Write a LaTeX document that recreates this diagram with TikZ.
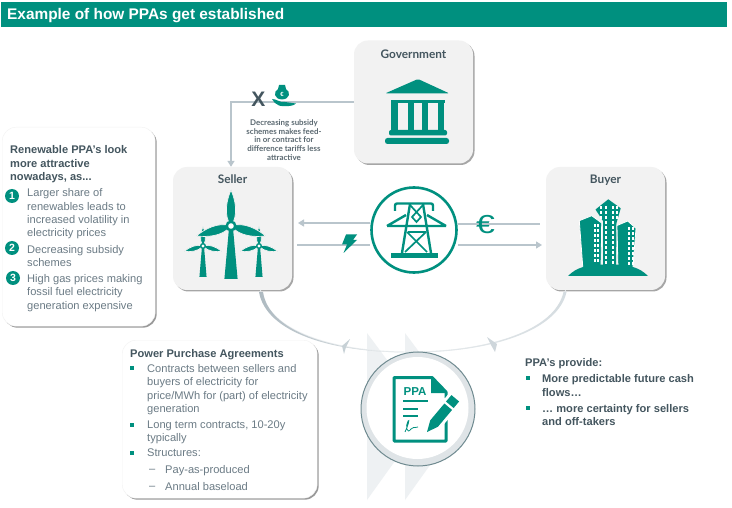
\documentclass[tikz,border=0pt]{standalone}
\usepackage{fontspec}
\usepackage{xcolor}
\usetikzlibrary{positioning,shadows,arrows.meta}
\setmainfont{Liberation Sans}
\newfontfamily\dinfont{Lato}
\definecolor{ppateal}{HTML}{00907F}
\definecolor{cardgrey}{HTML}{F2F2F2}
\definecolor{linegrey}{HTML}{B9C5CC}
\definecolor{textdark}{HTML}{44565F}
\definecolor{textgrey}{HTML}{6B7B85}
\definecolor{chevrongrey}{HTML}{EEF1F3}
\definecolor{arcdark}{HTML}{AEBAC1}
\definecolor{arclight}{HTML}{E8ECEE}
\definecolor{ringdark}{HTML}{6F8A90}
\definecolor{ringlight}{HTML}{DFE4E7}
% one wind turbine: hub at #1,#2, size #3, mast length #4
\newcommand{\turbine}[4]{
  \begin{scope}[shift={(#1,#2)},scale=#3]
    \foreach \bladeangle in {0,106,-106}
      \filldraw[fill=ppateal,draw=cardgrey,line width=.7pt,rotate=\bladeangle] (0,0) .. controls (-8,-11) and (-4,-27) .. (0,-36)
        .. controls (4,-27) and (8,-11) .. (0,0);
    \fill[ppateal] (-1.8,0) -- (1.8,0) -- (6.6,#4) -- (-6.6,#4) -- cycle;
    \fill[ppateal] (0,0) circle (5.6);
    \fill[white] (0,0) circle (2.8);
  \end{scope}}
\begin{document}
\begin{tikzpicture}[x=1pt,y=-1pt,
    card/.style={rectangle,rounded corners=14pt,fill=cardgrey,minimum width=119pt,minimum height=123pt,
                 drop shadow={shadow xshift=1.5pt,shadow yshift=-1.5pt,fill=black,opacity=.35}},
    panel/.style={rectangle,rounded corners=14pt,fill=white,draw=black!5,
                 drop shadow={shadow xshift=1.5pt,shadow yshift=-1.5pt,fill=black,opacity=.4}},
    cardtitle/.style={font=\dinfont\bfseries\fontsize{11.8}{13}\selectfont,text=textdark,inner sep=0pt},
    smallnote/.style={font=\dinfont\bfseries\fontsize{7.9}{8.7}\selectfont,text=textgrey!85!black,align=center,inner sep=0pt},
    headtext/.style={font=\bfseries\fontsize{11.1}{13.6}\selectfont,text=textdark,align=left,inner sep=0pt,anchor=north west},
    bodytext/.style={font=\fontsize{11.1}{13.4}\selectfont,text=textgrey,align=left,inner sep=0pt,anchor=north west},
    numdot/.style={circle,fill=ppateal,text=white,inner sep=0pt,minimum size=14pt,font=\bfseries\fontsize{10.5}{10.5}\selectfont},
    sqmark/.style={rectangle,fill=ppateal,inner sep=0pt,minimum size=3.4pt},
    flow/.style={draw=linegrey,line width=1.4pt},
    flowtip/.style={flow,-{Triangle[length=6pt,width=7pt]}}]
  \useasboundingbox (0,0) rectangle (732,508);
  \fill[white] (0,0) rectangle (732,508);
  % title bar
  \node[rectangle,fill=ppateal,minimum width=726pt,minimum height=25pt,anchor=north west,inner sep=0pt] (banner) at (1,2) {};
  \node[font=\bfseries\fontsize{15.4}{17}\selectfont,text=white,anchor=west,inner sep=0pt] (title) at (7,16) {Example of how PPAs get established};
  % pale chevrons behind the contract
  \fill[chevrongrey] (367,333) -- (428,415) -- (367,500) -- cycle;
  \fill[chevrongrey] (405,333) -- (466,415) -- (405,500) -- cycle;
  % parties
  \node[card] (gov) at (413.5,102) {};
  \node[card] (seller) at (232.5,228.5) {};
  \node[card] (buyer) at (605.5,228.5) {};
  \node[cardtitle,below=9pt of gov.north] (govtitle) {Government};
  \node[cardtitle,below=7.5pt of seller.north] (sellertitle) {Seller};
  \node[cardtitle,below=7.5pt of buyer.north] (buyertitle) {Buyer};
  \node[circle,draw=ppateal,fill=white,line width=2.6pt,minimum size=85pt,inner sep=0pt] (grid) at (414,230) {};
  % subsidy line
  \coordinate (bend) at (231,102);
  \draw[flowtip] (gov.west |- bend) -- (bend) -- ([xshift=-1.5pt]seller.north);
  % money and power flows, each with its own end beside the card
  \coordinate (sellertop) at (298,223);
  \coordinate (sellerlow) at (297,245);
  \coordinate (buyertop) at (540,224);
  \coordinate (buyerlow) at (542,245);
  \draw[flowtip] (grid.west |- sellertop) -- (sellertop);
  \draw[flow] (sellerlow) -- (grid.west |- sellerlow);
  \draw[flow] (grid.east |- buyertop) -- (buyertop);
  \draw[flowtip] (grid.east |- buyerlow) -- (buyerlow);
  % contract arc
  \draw[draw=arclight,line width=.9pt] ([xshift=28pt]seller.south) .. controls (268,330) and (330,352) .. (410,352)
    .. controls (490,352) and (557,330) .. ([xshift=-40pt]buyer.south);
  \shade[left color=arcdark,right color=arclight] (259,292) .. controls (266,332) and (330,352.6) .. (410,352.5)
    .. controls (330,351.8) and (269,331) .. (263,292) -- cycle;
  \shade[left color=arclight,right color=linegrey!60] (410,352.5) .. controls (490,352.8) and (558,331) .. (566.5,292)
    -- (563.5,292) .. controls (555,330) and (490,351.8) .. (410,351.8) -- cycle;
  \fill[linegrey!80] (350,339) -- (342,346) -- (344,354) -- (346,347) -- cycle;
  \fill[linegrey!70] (487,337) -- (497,344) -- (495,352) -- (491,345) -- cycle;
  % government icon
  \fill[ppateal,rounded corners=1.5pt] (418,79) -- (449.5,93.5) -- (385,93.5) -- cycle;
  \fill[ppateal] (391,100) rectangle (445,103);
  \foreach \colx/\colw in {391/7,407.5/6,422/6,438/6}
    \fill[ppateal] (\colx,103) rectangle ++(\colw,27);
  \fill[ppateal,rounded corners=2pt] (389,130) rectangle (447,135.5);
  \fill[ppateal,rounded corners=2.5pt] (385,138) rectangle (449,144);
  % seller icon
  \turbine{203}{246}{.54}{57}
  \turbine{259}{246}{.54}{57}
  \turbine{231}{226}{1}{53}
  % buyer icon
  \fill[ppateal] (595.5,209.5) -- (608.3,199.3) -- (620.7,208.3) -- (616.5,223) -- (616,270) -- (603,270) -- (603,221) -- cycle;
  \foreach \wy in {206,211,...,261} {
    \fill[white] (604.5,\wy) rectangle ++(2,3);
    \fill[white] (611.5,\wy) rectangle ++(2,3);
  }
  \foreach \wy in {206,211,216} {
    \fill[white] (600,\wy) rectangle ++(2,3);
    \fill[white] (615.5,\wy) rectangle ++(2,3);
  }
  \filldraw[fill=ppateal,draw=white,line width=.8pt] (579.3,220.7) -- (591.7,215.7) -- (601.7,223) -- (601,270) -- (583,270) -- cycle;
  \filldraw[fill=ppateal,draw=white,line width=.8pt] (617,225.5) -- (627.7,221) -- (636,228.3) -- (632.7,270) -- (618,270) -- cycle;
  \foreach \wy in {224,229,...,259} {
    \fill[white] (593.5,\wy) rectangle ++(2.2,3);
    \fill[white] (597.2,\wy) rectangle ++(2.2,3);
    \fill[white] (628.2,\wy+3) rectangle ++(1.8,3);
    \fill[white] (631.8,\wy+3) rectangle ++(1.8,3);
  }
  \fill[ppateal] (568,276) .. controls (577,267) and (587,264.5) .. (608,264.5)
    .. controls (629,264.5) and (639,267) .. (648,276) -- cycle;
  % pylon in the circle
  \fill[ppateal] (391,253) rectangle (438,258.5);
  \draw[ppateal,line width=2.4pt] (402,253) -- (410,204) (431,253) -- (423,204);
  \draw[ppateal,line width=1.7pt] (410,205) -- (421,217) -- (416.5,222) -- (412,217) -- (423,205);
  \draw[ppateal,line width=1.7pt] (408,232) -- (426,232) (407,232) -- (427,252) (426,232) -- (405,252);
  \draw[ppateal,line width=2.4pt,rounded corners=2pt] (395,211) -- (395,203.5) -- (433,203.5) -- (433,211);
  \draw[ppateal,line width=2.4pt,line join=round] (387,226) -- (406,215) (446,226) -- (427,215) (387,226) -- (446,226);
  % lightning and euro
  \fill[ppateal] (346,234.5) -- (357,234.5) -- (353,240) -- (357,240) -- (343.5,253) -- (347,244.5) -- (342,244.5) -- cycle;
  \node[font=\fontsize{26}{26}\selectfont,text=ppateal,inner sep=0pt,xscale=1.3] (euro) at (485.5,224.5) {€};
  % cross and money bag on the subsidy line
  \node[font=\bfseries\fontsize{21}{21}\selectfont,text=textdark,inner sep=0pt] (cross) at (258.5,99.5) {X};
  \fill[ppateal] (278,89) -- (279,85) -- (285,85) -- (286,89) .. controls (291,92) and (290,99) .. (282,99.5)
    .. controls (274,99) and (273,92) .. (278,89) -- cycle;
  \node[font=\bfseries\fontsize{6}{6}\selectfont,text=white,inner sep=0pt] (bageuro) at (282,94.5) {€};
  \fill[ppateal] (272,99) .. controls (277,99) and (280,103) .. (285,102) -- (296,103.5)
    .. controls (295,106) and (284,107) .. (279,105.5) .. controls (276,104) and (273,102) .. (272,99) -- cycle;
  \node[smallnote] (subsidynote) at (284,140) {Decreasing subsidy\\schemes makes feed-\\in or contract for\\difference tariffs less\\attractive};
  % left panel
  \node[panel,anchor=north west,minimum width=153pt,minimum height=199pt] (whypanel) at (2,127) {};
  \node[headtext] (whyhead) at (10,145.5) {Renewable PPA's look\\more attractive\\nowadays, as...};
  \node[numdot] (one) at (12,196) {1};
  \node[numdot] (two) at (12,248) {2};
  \node[numdot] (three) at (13,278) {3};
  \node[bodytext] (whyone) at (27,188.5) {Larger share of\\renewables leads to\\increased volatility in\\electricity prices};
  \node[bodytext] (whytwo) at (27,245) {Decreasing subsidy\\schemes};
  \node[bodytext] (whythree) at (27,274) {High gas prices making\\fossil fuel electricity\\generation expensive};
  % agreement panel
  \node[panel,anchor=north west,minimum width=195pt,minimum height=158pt] (ppapanel) at (122,340) {};
  \node[headtext] (ppahead) at (130,349.5) {Power Purchase Agreements};
  \node[sqmark] (ppabone) at (132,368) {};
  \node[sqmark] (ppabtwo) at (132,425) {};
  \node[sqmark] (ppabthree) at (132,453) {};
  \node[bodytext] (ppaone) at (147,364) {Contracts between sellers and\\buyers of electricity for\\price/MWh for (part) of electricity\\generation};
  \node[bodytext] (ppatwo) at (147,420.5) {Long term contracts, 10-20y\\typically};
  \node[bodytext] (ppathree) at (147,449) {Structures:};
  \node[bodytext] (dashone) at (149,465) {\vphantom{Pay}–};
  \node[bodytext] (dashtwo) at (149,482) {\vphantom{Pay}–};
  \node[bodytext] (ppafour) at (165,465) {Pay-as-produced};
  \node[bodytext] (ppafive) at (165,482) {Annual baseload};
  % contract circle
  \node[circle,draw=ringdark,fill=ringlight,line width=1pt,minimum size=114pt,inner sep=0pt] (ppaouter) at (418,409) {};
  \node[circle,fill=white,minimum size=102pt,inner sep=0pt] (ppainner) at (417.5,408) {};
  \draw[ppateal,line width=3pt,line join=round] (446,420) -- (446,441) -- (394,441) -- (394,377.5) -- (432,377.5) -- (446,392) -- (446,398);
  \fill[ppateal] (431,377) -- (447,393) -- (431,393) -- cycle;
  \node[font=\bfseries\fontsize{11.5}{12}\selectfont,text=ppateal,inner sep=0pt] (ppalabel) at (415,392) {PPA};
  \draw[ppateal,line width=1.6pt] (403,401) -- (428,401);
  \draw[ppateal,line width=1.6pt] (403,409) -- (418,409);
  \draw[ppateal,line width=1.6pt] (403,416) -- (418,416);
  \draw[ppateal,line width=.8pt] (405,432) .. controls (408,426) and (410,418) .. (408,421)
    .. controls (405,426) and (407,435) .. (411,429) .. controls (412,427) and (414,428) .. (418,427);
  \begin{scope}[shift={(427,432)},rotate=50]
    \fill[white] (-2,-8) rectangle (47,8);
    \fill[ppateal] (0,0) -- (11,-5) -- (33,-5) -- (33,5) -- (11,5) -- cycle;
    \fill[ppateal] (35.5,-5) rectangle (44,5);
  \end{scope}
  % benefits text
  \node[headtext] (benefithead) at (525,358.5) {PPA's provide:};
  \node[sqmark] (benbone) at (528,378) {};
  \node[sqmark] (benbtwo) at (528,408) {};
  \node[headtext] (benefitone) at (542,374.5) {More predictable future cash\\flows…};
  \node[headtext] (benefittwo) at (542,404) {… more certainty for sellers\\and off-takers};
\end{tikzpicture}
\end{document}
